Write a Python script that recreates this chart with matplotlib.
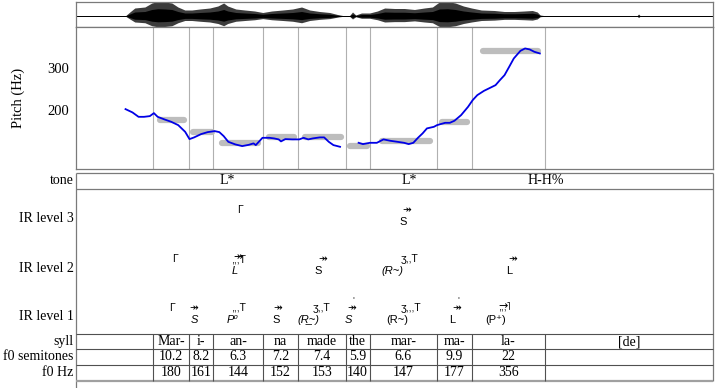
import numpy as np
import matplotlib
matplotlib.use('Agg')
import matplotlib.pyplot as plt
from matplotlib.transforms import blended_transform_factory

serif = ['Liberation Serif', 'DejaVu Serif']
sans = ['Liberation Sans', 'DejaVu Sans']

# time axis (s)
t_end = 2.2
bounds = [0.266, 0.390, 0.474, 0.645, 0.766, 0.931, 1.014, 1.247, 1.366, 1.621, 2.2]
syll = ['Mar-', 'i-', 'an-', 'na', 'made', 'the', 'mar-', 'ma-', 'la-', '[de]']
f0_st = [10.2, 8.2, 6.3, 7.2, 7.4, 5.9, 6.6, 9.9, 22, None]
f0_hz = [180, 161, 144, 152, 153, 140, 147, 177, 356, None]
bar_start = [0.289, 0.403, 0.505, 0.665, 0.792, 0.946, 1.057, 1.265, 1.407]
bar_end = [0.374, 0.469, 0.627, 0.752, 0.914, 1.005, 1.223, 1.352, 1.596]

# waveform envelope
wave_t = [0.0, 0.172, 0.186, 0.203, 0.238, 0.262, 0.283, 0.307, 0.331, 0.352, 0.376,
          0.4, 0.428, 0.462, 0.49, 0.51, 0.524, 0.552, 0.583, 0.617, 0.645, 0.676,
          0.714, 0.748, 0.779, 0.807, 0.841, 0.876, 0.903, 0.921, 0.945, 0.955, 0.966,
          0.986, 1.014, 1.041, 1.066, 1.1, 1.134, 1.169, 1.203, 1.231, 1.255, 1.283,
          1.31, 1.338, 1.366, 1.4, 1.445, 1.479, 1.514, 1.548, 1.576, 1.593, 1.603,
          1.617, 1.938, 1.943, 1.948, 2.2]
wave_amp = [0.3, 0.5, 4, 8, 9, 13, 14.5, 14, 13, 9, 6,
            6, 7, 8, 10, 13, 10, 7, 6, 5, 3.5, 5,
            6, 7, 9, 6, 4.5, 3.5, 1.5, 0.5, 0.5, 4, 1,
            3, 3, 5, 8, 7.5, 7.5, 6.5, 8, 9, 14, 14.5,
            13, 10, 8, 6, 5.5, 4.5, 4.5, 5, 5.5, 4, 1,
            0.4, 0.4, 2, 0.4, 0.4]

# pitch contour (semitones re 100 Hz)
p1_t = [0.171, 0.195, 0.216, 0.235, 0.255, 0.269, 0.282, 0.306, 0.329, 0.353, 0.377,
        0.392, 0.408, 0.432, 0.455, 0.479, 0.495, 0.51, 0.526, 0.55, 0.574, 0.597,
        0.613, 0.621, 0.644, 0.668, 0.684, 0.7, 0.708, 0.723, 0.747, 0.771, 0.786,
        0.802, 0.818, 0.842, 0.857, 0.873, 0.889, 0.912]
p1_st = [12.07, 11.51, 10.76, 10.76, 10.88, 11.39, 10.76, 10.31, 9.91, 9.35, 8.21,
         6.97, 7.26, 7.82, 8.16, 8.33, 8.16, 7.48, 6.51, 6.07, 5.78, 6.0,
         6.24, 5.95, 7.19, 7.19, 7.09, 6.92, 6.58, 6.97, 6.92, 6.92, 7.19,
         6.92, 7.09, 7.26, 7.26, 6.51, 5.95, 5.66]
p2_t = [0.976, 0.991, 1.015, 1.039, 1.062, 1.086, 1.11, 1.133, 1.149, 1.165, 1.181,
        1.197, 1.212, 1.236, 1.247, 1.259, 1.275, 1.291, 1.307, 1.33, 1.354, 1.37,
        1.386, 1.409, 1.433, 1.449, 1.464, 1.48, 1.496, 1.512, 1.535, 1.551, 1.567,
        1.583, 1.602]
p2_st = [6.34, 6.12, 6.34, 6.34, 6.92, 6.68, 6.51, 6.34, 6.12, 6.34, 7.19,
         7.94, 8.79, 9.06, 9.35, 9.52, 9.74, 9.74, 10.09, 11.05, 12.46, 13.6,
         14.45, 15.18, 15.76, 16.15, 17.0, 17.85, 19.26, 20.69, 21.99, 22.39, 22.22,
         21.82, 21.54]

tone_t = [0.524, 1.152, 1.621]
tone_lab = ['L*', 'L*', 'H-H%']

# IR analysis symbols
ir_level = [3, 3, 2, 2, 2, 2, 2, 1, 1, 1, 1, 1, 1, 1, 1, 1]
ir_sym_t = [0.566, 1.141, 0.341, 0.562, 0.852, 1.152, 1.510, 0.331, 0.407, 0.562,
            0.697, 0.848, 0.952, 1.157, 1.314, 1.478]
ir_sym = ['Γ', '↠', 'Γ', ',,,T', '↠', 'ʒ,,T', '↠', 'Γ', '↠', ',,,T',
          '↠', 'ʒ,,T', '↠', 'ʒ,,,T', '↠', ',,,˥']
ir_top = ['', '', '', '↠', '', '', '', '', '', '', '', '', 'ʿ', '', 'ʿ', '→']
ir_lab = ['', 'S', '', 'L', 'S', '(R~)', 'L', '', 'S', 'P⁰', 'S', '(R\u0332~)',
          'S', '(R~)', 'L', '(P⁺)']
ir_lab_t = [0, 1.13, 0, 0.548, 0.838, 1.093, 1.497, 0, 0.410, 0.541, 0.690, 0.802,
            0.940, 1.110, 1.300, 1.448]
ir_italic = [False, False, False, True, False, True, False, False, True, True,
             False, True, True, False, False, False]

W, H = 716, 388
fig = plt.figure(figsize=(W / 100, H / 100), dpi=100)
left = 76 / W
width = (713 - 76) / W
frame = '#7a7a7a'

# waveform
axw = fig.add_axes([left, 1 - 27 / H, width, 25 / H])
axw.fill_between(wave_t, [-0.75 * a for a in wave_amp], wave_amp, color='#3c3c3c', lw=0)
axw.fill_between(wave_t, [-0.4 * a for a in wave_amp], [0.5 * a for a in wave_amp],
                 color='black', lw=0)
axw.axhline(0, color='black', lw=0.7)
axw.set_xlim(0, t_end)
axw.set_ylim(-11, 14)
axw.set_xticks([])
axw.set_yticks([])
for s in axw.spines.values():
    s.set_color(frame)
    s.set_linewidth(0.9)

# pitch panel
axp = fig.add_axes([left, 1 - 169 / H, width, 142 / H])
axp.set_yscale('log')
axp.set_xlim(0, t_end)
axp.set_ylim(111.5, 450)
for b in bounds[:-1]:
    axp.axvline(b, color='#b0b0b0', lw=0.8)
for x0, x1, hz in zip(bar_start, bar_end, f0_hz):
    axp.plot([x0, x1], [hz, hz], color='#bdbdbd', lw=4.5, solid_capstyle='round')
axp.plot(p1_t, [100 * 2 ** (s / 12) for s in p1_st], color='#0000e6', lw=1.3)
axp.plot(p2_t, [100 * 2 ** (s / 12) for s in p2_st], color='#0000e6', lw=1.3)
axp.set_xticks([])
axp.yaxis.set_major_locator(matplotlib.ticker.FixedLocator([200, 300]))
axp.yaxis.set_minor_locator(matplotlib.ticker.NullLocator())
axp.set_yticklabels(['200', '300'], fontfamily=serif, fontsize=10.5)
axp.tick_params(axis='y', length=0, pad=5)
axp.set_ylabel('Pitch (Hz)', fontfamily=serif, fontsize=10.5)
axp.yaxis.set_label_coords(-0.08, 0.5)
for s in axp.spines.values():
    s.set_color(frame)
    s.set_linewidth(0.9)

# lower part: tone tier, IR levels, table (y in pixels from top)
axl = fig.add_axes([left, 0, width, (H - 173) / H])
axl.set_xlim(0, t_end)
axl.set_ylim(H, 173)
axl.axis('off')
lab = blended_transform_factory(axl.transAxes, axl.transData)

# tone box
axl.hlines([173, 189], 0, t_end, color=frame, lw=0.9, clip_on=False)
axl.vlines(0, 173, H, color=frame, lw=0.9, clip_on=False)
axl.vlines(t_end, 173, 381, color=frame, lw=0.9, clip_on=False)
axl.text(-0.004, 181, 'tone', transform=lab, ha='right', va='center',
         fontfamily=serif, fontsize=10)
for t, s in zip(tone_t, tone_lab):
    axl.text(t, 181, s, ha='center', va='center', fontfamily=serif, fontsize=10)

# IR levels
row_y = {3: 219, 2: 268, 1: 317}
for lev, y in row_y.items():
    axl.text(-0.004, y, 'IR level %d' % lev, transform=lab, ha='right', va='center',
             fontfamily=serif, fontsize=10)
for i in range(len(ir_level)):
    ys = row_y[ir_level[i]] - 9
    axl.text(ir_sym_t[i], ys, ir_sym[i], ha='center', va='center',
             fontfamily=sans, fontsize=7.5)
    if ir_top[i]:
        if ir_top[i] == 'ʿ':
            axl.text(ir_sym_t[i] + 0.006, ys - 6, ir_top[i], ha='center', va='center',
                     fontfamily=sans, fontsize=8)
        else:
            axl.text(ir_sym_t[i] - 0.004, ys - 2, ir_top[i], ha='center', va='center',
                     fontfamily=['DejaVu Sans'], fontsize=8)
    if ir_lab[i]:
        axl.text(ir_lab_t[i], ys + 12, ir_lab[i], ha='center', va='center',
                 fontfamily=sans, fontsize=8,
                 fontstyle='italic' if ir_italic[i] else 'normal')

# table
rows = [(334, 349, 'syll', syll),
        (349, 365, 'f0 semitones', ['%g' % v if v is not None else '' for v in f0_st]),
        (365, 381, 'f0 Hz', ['%g' % v if v is not None else '' for v in f0_hz])]
axl.hlines([334, 349, 365], 0, t_end, color='#505050', lw=0.8, clip_on=False)
axl.hlines(381, 0, t_end, color='#a0a0a0', lw=1.6, clip_on=False)
axl.vlines(bounds[:-1], 334, 381, color='#505050', lw=0.8, clip_on=False)
for y0, y1, name, vals in rows:
    yc = (y0 + y1) / 2
    axl.text(-0.004, yc, name, transform=lab, ha='right', va='center',
             fontfamily=serif, fontsize=10)
    for j, v in enumerate(vals):
        axl.text((bounds[j] + bounds[j + 1]) / 2, yc, v, ha='center', va='center',
                 fontfamily=serif, fontsize=10)

fig.savefig('out.png', dpi=100)
